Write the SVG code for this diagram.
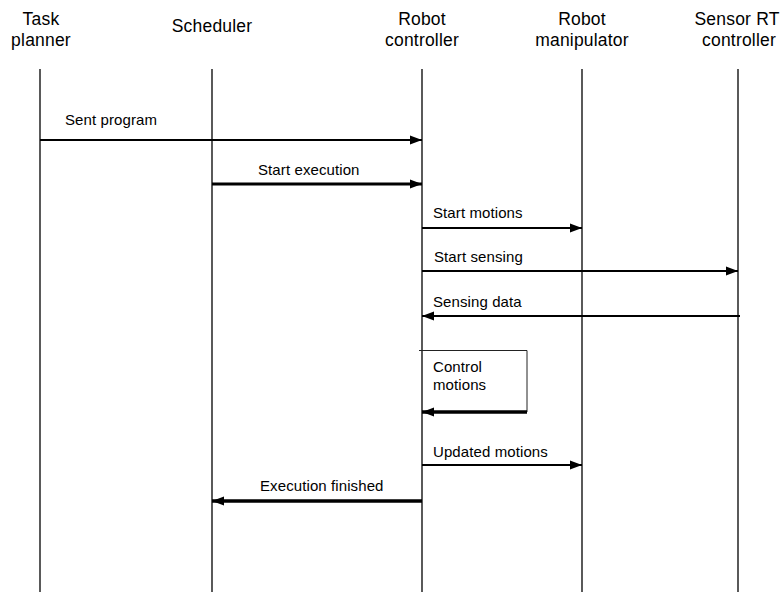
<svg xmlns="http://www.w3.org/2000/svg" width="783" height="592" viewBox="0 0 783 592">
  <style>
    .hdr { font-family: "Liberation Sans", Arial, sans-serif; font-size: 17.5px; fill: #000; text-anchor: middle; letter-spacing: 0.2px; }
    .lbl { font-family: "Liberation Sans", Arial, sans-serif; font-size: 15px; fill: #000; letter-spacing: 0.1px; }
    .life { stroke: #000; stroke-width: 1.3; fill: none; }
    .msg { stroke: #000; fill: none; }
    .box { stroke: #222; stroke-width: 1; fill: none; }
  </style>
  <defs>
    <marker id="head" markerUnits="userSpaceOnUse" markerWidth="13" markerHeight="11" refX="12" refY="5.5" orient="auto">
      <path d="M0,1 L12,5.5 L0,10 Z" fill="#000"/>
    </marker>
  </defs>
  <rect width="783" height="592" fill="#fff"/>

  <g id="task-planner">
    <text class="hdr" x="41" y="25">Task</text>
    <text class="hdr" x="41" y="46">planner</text>
    <line class="life" x1="40" y1="69" x2="40" y2="592"/>
  </g>
  <g id="scheduler">
    <text class="hdr" x="212" y="32">Scheduler</text>
    <line class="life" x1="212" y1="69" x2="212" y2="592"/>
  </g>
  <g id="robot-controller">
    <text class="hdr" x="422" y="25">Robot</text>
    <text class="hdr" x="422" y="46">controller</text>
    <line class="life" x1="422" y1="69" x2="422" y2="592"/>
  </g>
  <g id="robot-manipulator">
    <text class="hdr" x="582" y="25">Robot</text>
    <text class="hdr" x="582" y="46">manipulator</text>
    <line class="life" x1="582" y1="69" x2="582" y2="592"/>
  </g>
  <g id="sensor-rt-controller">
    <text class="hdr" x="737" y="25">Sensor RT</text>
    <text class="hdr" x="739" y="46">controller</text>
    <line class="life" x1="738" y1="69" x2="738" y2="592"/>
  </g>

  <g id="connectors">
    <line class="msg" x1="40" y1="140" x2="422" y2="140" stroke-width="2.2" marker-end="url(#head)"/>
    <text class="lbl" x="65" y="125">Sent program</text>

    <line class="msg" x1="212" y1="184" x2="422" y2="184" stroke-width="3" marker-end="url(#head)"/>
    <text class="lbl" x="258" y="175">Start execution</text>

    <line class="msg" x1="422" y1="228" x2="582" y2="228" stroke-width="2.2" marker-end="url(#head)"/>
    <text class="lbl" x="433" y="218">Start motions</text>

    <line class="msg" x1="422" y1="271" x2="738" y2="271" stroke-width="2.2" marker-end="url(#head)"/>
    <text class="lbl" x="434" y="262">Start sensing</text>

    <line class="msg" x1="740" y1="316" x2="422" y2="316" stroke-width="2.2" marker-end="url(#head)"/>
    <text class="lbl" x="433" y="307">Sensing data</text>

    <polyline class="box" points="419,350.5 527,350.5 527,412"/>
    <line class="msg" x1="527" y1="412" x2="422" y2="412" stroke-width="3.5" marker-end="url(#head)"/>
    <text class="lbl" x="433" y="372">Control</text>
    <text class="lbl" x="433" y="390">motions</text>

    <line class="msg" x1="422" y1="465" x2="582" y2="465" stroke-width="2.2" marker-end="url(#head)"/>
    <text class="lbl" x="433" y="457">Updated motions</text>

    <line class="msg" x1="422" y1="501" x2="212" y2="501" stroke-width="3.5" marker-end="url(#head)"/>
    <text class="lbl" x="260" y="491">Execution finished</text>
  </g>
</svg>
